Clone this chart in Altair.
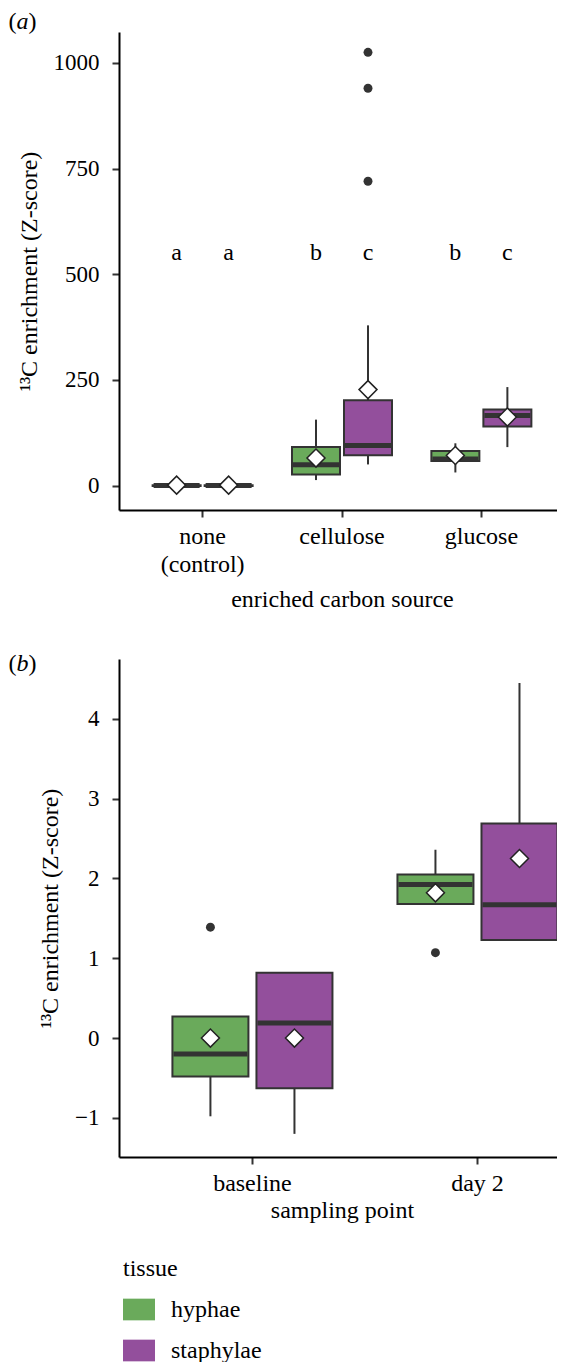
import altair as alt
import pandas as pd

FONT = "Liberation Serif"
GREEN = "#6aaa5b"
PURPLE = "#934f9c"
DARK = "#333333"

tissues = ["hyphae", "staphylae"]
panel_labels = ["a", "b"]

# ---------------- panel (a) ----------------
sources = ["none (control)", "cellulose", "glucose"]
a_source = ["none (control)", "none (control)", "cellulose", "cellulose", "glucose", "glucose"]
a_tissue = ["hyphae", "staphylae", "hyphae", "staphylae", "hyphae", "staphylae"]
a_low = [-1, -1, 13, 50, 31, 91]
a_q1 = [-1, -1, 26, 72, 58, 140]
a_median = [0, 0, 49, 95, 63, 166]
a_q3 = [1, 1, 91, 202, 82, 180]
a_high = [1, 1, 156, 379, 100, 233]
a_mean = [1, 1, 65, 227, 71, 162]
a_letters = ["a", "a", "b", "c", "b", "c"]
a_letter_level = 550
a_out_source = ["cellulose", "cellulose", "cellulose"]
a_out_tissue = ["staphylae", "staphylae", "staphylae"]
a_out_value = [720, 940, 1025]
a_ticks = [0, 250, 500, 750, 1000]

# ---------------- panel (b) ----------------
points = ["baseline", "day 2"]
b_point = ["baseline", "baseline", "day 2", "day 2"]
b_tissue = ["hyphae", "staphylae", "hyphae", "staphylae"]
b_low = [-0.98, -1.2, 1.68, 1.22]
b_q1 = [-0.48, -0.63, 1.68, 1.23]
b_median = [-0.2, 0.19, 1.925, 1.67]
b_q3 = [0.27, 0.82, 2.05, 2.69]
b_high = [0.27, 0.82, 2.36, 4.45]
b_mean = [0.0, 0.0, 1.82, 2.25]
b_out_point = ["baseline", "day 2"]
b_out_tissue = ["hyphae", "hyphae"]
b_out_value = [1.39, 1.07]
b_ticks = [-1, 0, 1, 2, 3, 4]

YTITLE = "\u00b9\u00b3C enrichment (Z-score)"


def panel(df, out_df, cats, xscale, xoff_pad, ydomain, yticks, xtitle, xtitle_pad, letter,
          label_base, width, height, boxw, letters_df=None, label_expr=None):
    axis_kw = dict(title=xtitle, labelAngle=0, titlePadding=xtitle_pad, labelFontSize=24)
    if label_expr:
        axis_kw["labelExpr"] = label_expr
    x = alt.X("cat:N", scale=xscale, sort=cats, axis=alt.Axis(**axis_kw))
    xo = alt.XOffset("tissue:N", sort=tissues,
                     scale=alt.Scale(domain=tissues, paddingInner=0, paddingOuter=xoff_pad))
    ys = alt.Scale(domain=ydomain, nice=False, zero=False)
    base = alt.Chart(df)
    whisk = base.mark_rule(color=DARK, strokeWidth=2).encode(
        x=x, xOffset=xo,
        y=alt.Y("low:Q", scale=ys,
                axis=alt.Axis(values=yticks, title=YTITLE, format="d", labelFontSize=23,
                              labelPadding=13, titlePadding=12)),
        y2="high:Q")
    box = base.mark_bar(width=boxw, stroke=DARK, strokeWidth=2).encode(
        x=x, xOffset=xo,
        y=alt.Y("q1:Q", scale=ys), y2="q3:Q",
        color=alt.Color("tissue:N", scale=alt.Scale(domain=tissues, range=[GREEN, PURPLE]),
                        legend=alt.Legend(title="tissue")))
    med = base.mark_tick(color=DARK, thickness=5, size=boxw - 2, opacity=1).encode(
        x=x, xOffset=xo, y=alt.Y("median:Q", scale=ys))
    outl = alt.Chart(out_df).mark_circle(color=DARK, size=80, opacity=1).encode(
        x=x, xOffset=xo, y=alt.Y("value:Q", scale=ys))
    mean = base.mark_point(shape="diamond", filled=True, fill="white", stroke="#222222",
                           strokeWidth=1.5, size=324, opacity=1).encode(
        x=x, xOffset=xo, y=alt.Y("mean:Q", scale=ys))
    layers = [whisk, box, med, outl, mean]
    if letters_df is not None:
        txt = alt.Chart(letters_df).mark_text(font=FONT, fontSize=24, baseline="middle",
                                              color="black").encode(
            x=x, xOffset=xo, y=alt.Y("level:Q", scale=ys), text="letter:N")
        layers.append(txt)
    lab = alt.Chart(pd.DataFrame({"t": [letter]}))
    common = dict(font=FONT, fontSize=24, color="black", align="left", baseline="alphabetic")
    layers.append(lab.mark_text(**common).encode(
        x=alt.value(-110.5), y=alt.value(label_base), text=alt.value("(")))
    layers.append(lab.mark_text(fontStyle="italic", **common).encode(
        x=alt.value(-102.5), y=alt.value(label_base), text="t:N"))
    layers.append(lab.mark_text(**common).encode(
        x=alt.value(-90.5), y=alt.value(label_base), text=alt.value(")")))
    return alt.layer(*layers).properties(width=width, height=height)


df_a = pd.DataFrame({"cat": a_source, "tissue": a_tissue, "low": a_low, "q1": a_q1,
                     "median": a_median, "q3": a_q3, "high": a_high, "mean": a_mean})
out_a = pd.DataFrame({"cat": a_out_source, "tissue": a_out_tissue, "value": a_out_value})
let_a = pd.DataFrame({"cat": a_source, "tissue": a_tissue, "letter": a_letters,
                      "level": [a_letter_level] * len(a_letters)})

df_b = pd.DataFrame({"cat": b_point, "tissue": b_tissue, "low": b_low, "q1": b_q1,
                     "median": b_median, "q3": b_q3, "high": b_high, "mean": b_mean})
out_b = pd.DataFrame({"cat": b_out_point, "tissue": b_out_tissue, "value": b_out_value})

pa = panel(df_a, out_a, sources,
           alt.Scale(domain=sources, paddingInner=0, paddingOuter=0.1, align=0.5), 0.34,
           [-57.8, 1073], a_ticks, "enriched carbon source", 11, panel_labels[0], -3,
           446, 478, 48, letters_df=let_a,
           label_expr="datum.value == 'none (control)' ? ['none', '(control)'] : datum.label")
pb = panel(df_b, out_b, points,
           alt.Scale(domain=points, paddingInner=0.222, paddingOuter=0.102, align=1), 0.0417,
           [-1.49, 4.75], b_ticks, "sampling point", 3, panel_labels[1], 12,
           446, 498, 76)

chart = alt.vconcat(pa, pb, spacing=40).resolve_scale(
    xOffset="independent", x="independent", y="independent"
).properties(
    padding={"left": 0, "top": 2, "right": -8.5, "bottom": -5}
).configure_view(stroke=None).configure_axis(
    grid=False, domainColor="black", domainWidth=2, tickColor=DARK, tickWidth=2,
    tickSize=7, labelFont=FONT, labelColor="black", labelPadding=7.5,
    titleFont=FONT, titleFontSize=24, titleFontWeight="normal", titleColor="black",
    titlePadding=14, labelLineHeight=28
).configure_legend(
    orient="bottom", direction="vertical", titleFont=FONT, titleFontSize=24,
    titleFontWeight="normal", titleColor="black", labelFont=FONT, labelFontSize=24,
    labelColor="black", symbolType="M-1,-0.678L1,-0.678L1,0.678L-1,0.678Z",
    symbolSize=1024, symbolStrokeWidth=0, symbolOpacity=1, rowPadding=13,
    titlePadding=12.5, labelOffset=16, offset=30, padding=4
)

chart.save("out.html", embed_options={"renderer": "svg", "actions": False})
